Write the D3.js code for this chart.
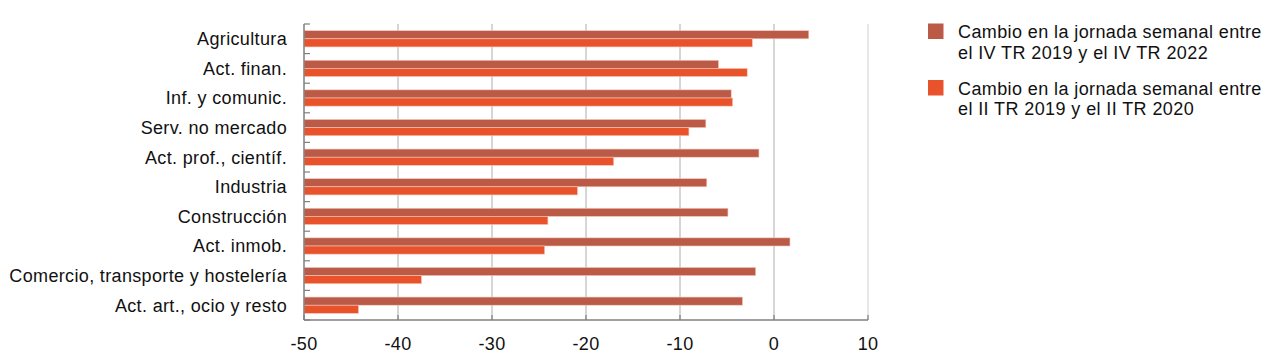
<!DOCTYPE html>
<html>
<head>
<meta charset="utf-8">
<script src="https://cdn.jsdelivr.net/npm/d3@7"></script>
<style>
  html, body { margin: 0; padding: 0; background: #fff; }
  svg { display: block; font-family: "Liberation Sans", Arial, Helvetica, sans-serif; }
</style>
</head>
<body>
<svg id="chart" width="1272" height="355"></svg>
<script>
const categories = [
  "Agricultura",
  "Act. finan.",
  "Inf. y comunic.",
  "Serv. no mercado",
  "Act. prof., científ.",
  "Industria",
  "Construcción",
  "Act. inmob.",
  "Comercio, transporte y hostelería",
  "Act. art., ocio y resto"
];
const seriesNames = [
  ["Cambio en la jornada semanal entre", "el IV TR 2019 y el IV TR 2022"],
  ["Cambio en la jornada semanal entre", "el II TR 2019 y el II TR 2020"]
];
const values2022 = [3.7, -5.9, -4.55, -7.25, -1.6, -7.15, -4.9, 1.7, -1.95, -3.35];
const values2020 = [-2.3, -2.85, -4.4, -9.05, -17.05, -20.9, -24.05, -24.4, -37.5, -44.2];
const xTicks = [-50, -40, -30, -20, -10, 0, 10];

const colors = ["#BA5A47", "#E9532C"];

const svg = d3.select("#chart");
const mLeft = 304, mRight = 868, mTop = 24, mBottom = 320;

const x = d3.scaleLinear().domain([-50, 10]).range([mLeft, mRight]);
const y = d3.scaleBand().domain(categories).range([mTop, mBottom])
  .paddingInner(0.45).paddingOuter(0.225);
const sub = d3.scaleBand().domain([0, 1]).range([0, y.bandwidth()]);

// gridlines
svg.append("g").selectAll("line").data(xTicks.slice(1)).join("line")
  .attr("x1", d => x(d)).attr("x2", d => x(d))
  .attr("y1", mTop).attr("y2", mBottom)
  .attr("stroke", d => d === 10 ? "#cfcfcf" : "#acacac")
  .attr("stroke-width", 1);

// bars
const rows = categories.map((c, i) => ({ c, v: [values2022[i], values2020[i]] }));
const g = svg.append("g");
rows.forEach(r => {
  r.v.forEach((v, k) => {
    g.append("rect")
      .attr("x", x(-50))
      .attr("y", y(r.c) + sub(k))
      .attr("width", x(v) - x(-50))
      .attr("height", sub.bandwidth())
      .attr("fill", colors[k])
      .attr("stroke", "#f6c9bb")
      .attr("stroke-width", 0.6);
  });
});

// left axis
const yAxis = svg.append("g").attr("transform", `translate(${mLeft},0)`);
yAxis.append("line").attr("x1", 0).attr("x2", 0).attr("y1", mTop).attr("y2", mBottom)
  .attr("stroke", "#7f7f7f").attr("stroke-width", 1.5);
const bounds = d3.range(categories.length + 1).map(i => mTop + i * y.step());
yAxis.selectAll("line.tk").data(bounds).join("line").attr("class", "tk")
  .attr("x1", 0).attr("x2", 6).attr("y1", d => d).attr("y2", d => d)
  .attr("stroke", "#7f7f7f").attr("stroke-width", 1.2);
yAxis.selectAll("text").data(categories).join("text")
  .attr("x", -17)
  .attr("y", d => y(d) + y.bandwidth() / 2)
  .attr("dy", "0.35em")
  .attr("text-anchor", "end")
  .attr("font-size", 18)
  .attr("letter-spacing", "0.35px")
  .attr("fill", "#111")
  .text(d => d);

// bottom axis
const xAxis = svg.append("g").attr("transform", `translate(0,${mBottom})`);
xAxis.append("line").attr("x1", mLeft).attr("x2", mRight).attr("y1", 0).attr("y2", 0)
  .attr("stroke", "#7f7f7f").attr("stroke-width", 1.5);
xAxis.selectAll("line.tk").data(xTicks).join("line").attr("class", "tk")
  .attr("x1", d => x(d)).attr("x2", d => x(d)).attr("y1", 0).attr("y2", -5)
  .attr("stroke", "#7f7f7f").attr("stroke-width", 1.2);
xAxis.selectAll("text").data(xTicks).join("text")
  .attr("x", d => x(d))
  .attr("y", 30)
  .attr("text-anchor", "middle")
  .attr("font-size", 18)
  .attr("letter-spacing", "0.3px")
  .attr("fill", "#111")
  .text(d => d);

// legend
const legend = svg.append("g");
const legY = [23.5, 80];
seriesNames.forEach((lines, k) => {
  legend.append("rect")
    .attr("x", 928).attr("y", legY[k]).attr("width", 15.5).attr("height", 15.5)
    .attr("fill", colors[k]);
  lines.forEach((t, j) => {
    legend.append("text")
      .attr("x", 958).attr("y", legY[k] + 14.7 + j * 20.5)
      .attr("font-size", 18)
      .attr("letter-spacing", "0.4px")
      .attr("fill", "#111")
      .text(t);
  });
});
</script>
</body>
</html>
